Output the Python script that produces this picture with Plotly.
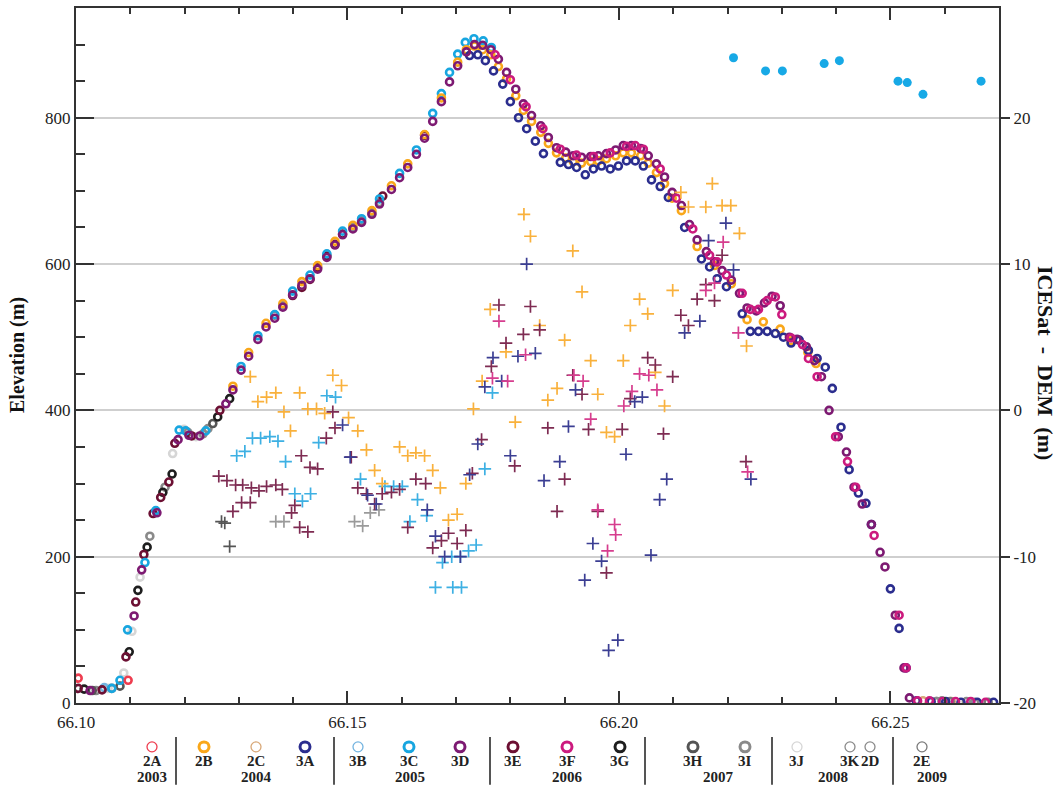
import plotly.graph_objects as go

# ---------------- elevation profiles (latitude, elevation in m) ----------------
LAT_2A = [66.1004, 66.1096]
ELEV_2A = [34, 31]

LAT_2B = [66.1289, 66.1318, 66.1350, 66.1381, 66.1416, 66.1445, 66.1477, 66.1510, 66.1545, 66.1581,
          66.1611, 66.1642, 66.1673, 66.1703, 66.1719, 66.1734, 66.1749, 66.1764, 66.1778, 66.1793,
          66.1810, 66.1824, 66.1839, 66.1856, 66.1870, 66.1885, 66.1902, 66.1916, 66.1931, 66.1948,
          66.1962, 66.1977, 66.1994, 66.2008, 66.2023, 66.2040, 66.2054, 66.2069, 66.2084, 66.2098,
          66.2115, 66.2144, 66.2176, 66.2207, 66.2236, 66.2266, 66.2297, 66.2317, 66.2348, 66.2363]
ELEV_2B = [433, 479, 519, 546, 576, 598, 631, 653, 673, 707,
           737, 777, 827, 876, 893, 898, 893, 886, 870, 853,
           830, 810, 795, 780, 765, 752, 745, 740, 738, 740,
           741, 744, 748, 752, 752, 748, 738, 725, 710, 690,
           673, 624, 598, 573, 524, 521, 511, 495, 479, 464]

LAT_2C = [66.2560, 66.2612]
ELEV_2C = [3, 2]

LAT_3A = [66.1725, 66.1740, 66.1754, 66.1769, 66.1786, 66.1800, 66.1815, 66.1830, 66.1846, 66.1861,
          66.1892, 66.1907, 66.1922, 66.1938, 66.1953, 66.1968, 66.1984, 66.1999, 66.2014, 66.2030,
          66.2045, 66.2060, 66.2076, 66.2091, 66.2121, 66.2152, 66.2167, 66.2181, 66.2198, 66.2227,
          66.2242, 66.2257, 66.2273, 66.2288, 66.2303, 66.2317, 66.2332, 66.2349, 66.2365, 66.2380,
          66.2393, 66.2409, 66.2424, 66.2441, 66.2455, 66.2465, 66.2500, 66.2516, 66.2529, 66.2548,
          66.2575, 66.2602, 66.2630, 66.2660, 66.2690]
ELEV_3A = [885, 886, 878, 864, 846, 822, 800, 785, 768, 751,
           739, 736, 732, 722, 730, 734, 730, 734, 741, 741,
           734, 715, 706, 691, 650, 607, 596, 580, 569, 532,
           508, 508, 508, 505, 500, 492, 496, 482, 471, 459,
           430, 377, 319, 287, 273, 244, 156, 102, 48, 3,
           2, 2, 1, 1, 1]

LAT_3B = [66.1052]
ELEV_3B = [21]

LAT_3C = [66.1066, 66.1081, 66.1095, 66.1127, 66.1147, 66.1190, 66.1202, 66.1239, 66.1304, 66.1335,
          66.1366, 66.1399, 66.1431, 66.1462, 66.1491, 66.1526, 66.1559, 66.1596, 66.1627, 66.1657,
          66.1673, 66.1688, 66.1703, 66.1717, 66.1733, 66.1750, 66.1765]
ELEV_3C = [20, 31, 100, 192, 263, 373, 372, 372, 460, 502,
           531, 563, 585, 614, 645, 662, 689, 724, 756, 806,
           833, 862, 887, 903, 908, 905, 896]

LAT_3D = [66.1026, 66.1107, 66.1121, 66.1149, 66.1188, 66.1208, 66.1228, 66.1276,
          66.1289, 66.1304, 66.1318, 66.1335, 66.1350, 66.1366, 66.1381, 66.1399, 66.1416, 66.1431,
          66.1445, 66.1462, 66.1477, 66.1491, 66.1510, 66.1526, 66.1545, 66.1559, 66.1581, 66.1596,
          66.1611, 66.1627, 66.1642, 66.1657, 66.1673, 66.1688, 66.1703,
          66.1719, 66.1734, 66.1749, 66.1764, 66.1778, 66.1793, 66.1810, 66.1824, 66.1839, 66.1856,
          66.1870, 66.1885, 66.1902, 66.1916, 66.1931, 66.1948, 66.1962, 66.1977, 66.1994, 66.2008,
          66.2023, 66.2040, 66.2054, 66.2069, 66.2084, 66.2098, 66.2115, 66.2130, 66.2144, 66.2161,
          66.2176, 66.2190, 66.2207, 66.2222, 66.2236, 66.2253, 66.2268, 66.2282, 66.2297, 66.2314,
          66.2328, 66.2345, 66.2360, 66.2373, 66.2387, 66.2404, 66.2419, 66.2433, 66.2448, 66.2465,
          66.2481, 66.2490, 66.2509, 66.2525, 66.2535]
ELEV_3D = [17, 119, 182, 260, 360, 366, 365, 409,
           428, 455, 474, 497, 514, 526, 541, 558, 571, 580,
           593, 609, 626, 640, 648, 657, 668, 682, 702, 718,
           732, 750, 772, 795, 822, 849, 871,
           890, 900, 899, 893, 880, 862, 839, 819, 803, 789,
           773, 759, 753, 748, 746, 747, 748, 751, 756, 762,
           762, 758, 748, 737, 719, 698, 680, 654, 633, 617,
           603, 591, 578, 560, 540, 536, 547, 556, 543, 500,
           497, 487, 468, 446, 400, 364, 343, 295, 272, 244,
           206, 186, 120, 48, 7]

LAT_3E = [66.1004, 66.1048, 66.1092, 66.1110, 66.1125, 66.1142, 66.1156, 66.1171, 66.1182, 66.1213,
          66.1265, 66.1399, 66.1416, 66.1431, 66.1445, 66.1462, 66.1477, 66.1491, 66.1565, 66.1642]
ELEV_3E = [20, 18, 63, 138, 203, 259, 281, 302, 355, 365,
           400, 557, 568, 579, 595, 611, 627, 641, 693, 776]

LAT_3F = [66.1772, 66.1800, 66.1829, 66.1860, 66.1892, 66.1922, 66.1953, 66.1984, 66.2014, 66.2030,
          66.2045, 66.2076, 66.2106, 66.2136, 66.2167, 66.2181, 66.2198, 66.2227, 66.2242, 66.2257,
          66.2273, 66.2288, 66.2300, 66.2317, 66.2338, 66.2349, 66.2365, 66.2399, 66.2421, 66.2436,
          66.2470, 66.2516, 66.2529, 66.2550, 66.2572, 66.2596, 66.2620, 66.2648, 66.2675]
ELEV_3F = [886, 852, 815, 785, 757, 749, 747, 752, 761, 762,
           757, 730, 690, 648, 612, 603, 585, 560, 538, 538,
           550, 555, 531, 499, 490, 471, 446, 364, 330, 295,
           229, 120, 48, 3, 3, 2, 2, 2, 1]

LAT_3G = [66.1015, 66.1098, 66.1114, 66.1131, 66.1160, 66.1177, 66.1261, 66.1283]
ELEV_3G = [19, 70, 154, 213, 288, 313, 391, 416]

LAT_3H = [66.1030, 66.1081, 66.1252]
ELEV_3H = [17, 23, 382]

LAT_3I = [66.1037, 66.1066, 66.1136, 66.1164, 66.1206, 66.1234, 66.1243, 66.1366, 66.1381, 66.1510,
          66.1526, 66.1545, 66.1559, 66.2585]
ELEV_3I = [17, 20, 228, 295, 370, 368, 375, 530, 543, 650,
           659, 670, 684, 2]

LAT_3J = [66.1059, 66.1088, 66.1103, 66.1118, 66.1178, 66.1199, 66.1221]
ELEV_3J = [20, 41, 98, 172, 341, 374, 364]

LAT_3K = [66.2585, 66.2640]
ELEV_3K = [2, 2]
LAT_2D = [66.2595, 66.2655]
ELEV_2D = [3, 1]
LAT_2E = [66.2610, 66.2680]
ELEV_2E = [2, 1]

# ---------------- ICESat - DEM differences (latitude, m) ----------------
DLAT_2B = [66.1321, 66.1335, 66.1351, 66.1368, 66.1383, 66.1395, 66.1412, 66.1427, 66.1443, 66.1458,
           66.1473, 66.1489, 66.1502, 66.1519, 66.1535, 66.1550, 66.1564, 66.1596, 66.1611, 66.1626,
           66.1642, 66.1657, 66.1671, 66.1686, 66.1702, 66.1718, 66.1732, 66.1748, 66.1763, 66.1792,
           66.1809, 66.1825, 66.1837, 66.1854, 66.1869, 66.1886, 66.1900, 66.1915, 66.1932, 66.1948,
           66.1961, 66.1977, 66.1992, 66.2008, 66.2021, 66.2038, 66.2053, 66.2067, 66.2084, 66.2099,
           66.2114, 66.2128, 66.2160, 66.2172, 66.2190, 66.2206, 66.2222, 66.2235]
DIFF_2B = [2.3, 0.6, 0.9, 1.2, -0.1, -1.4, 1.2, 0.1, 0.1, -0.2,
           2.4, 1.7, -0.5, -1.4, -2.7, -4.1, -5.0, -2.5, -3.1, -2.9,
           -3.1, -4.1, -5.3, -7.5, -7.1, -5.0, 0.1, 2.0, 6.9, 4.0,
           -0.8, 13.4, 11.9, 5.8, 0.7, 1.5, 4.8, 10.9, 8.1, 3.4,
           1.1, -1.5, -1.8, 3.4, 5.8, 7.6, 6.6, 2.6, 0.3, 8.2,
           14.9, 13.9, 13.9, 15.5, 14.0, 14.0, 12.1, 4.4]

DLAT_3C = [66.1296, 66.1311, 66.1325, 66.1340, 66.1357, 66.1372, 66.1386, 66.1403, 66.1417, 66.1432,
           66.1447, 66.1462, 66.1478, 66.1524, 66.1569, 66.1585, 66.1601, 66.1615, 66.1629, 66.1646,
           66.1662, 66.1675, 66.1692, 66.1694, 66.1708, 66.1710, 66.1723, 66.1737, 66.1753, 66.1767]
DIFF_3C = [-3.1, -2.8, -1.9, -1.9, -1.8, -2.1, -3.5, -5.7, -6.2, -5.7,
           -2.2, 1.0, 0.9, -4.7, -5.2, -5.2, -5.2, -7.6, -6.1, -7.2,
           -12.1, -10.4, -10.0, -12.1, -10.0, -12.1, -9.6, -9.2, -4.0, 1.2]

DLAT_3E = [66.1263, 66.1278, 66.1289, 66.1294, 66.1305, 66.1307, 66.1321, 66.1323, 66.1337, 66.1351,
           66.1368, 66.1380, 66.1397, 66.1403, 66.1412, 66.1415, 66.1427, 66.1431, 66.1445, 66.1461,
           66.1473, 66.1477, 66.1507, 66.1519, 66.1535, 66.1550, 66.1564, 66.1581, 66.1596, 66.1611,
           66.1626, 66.1644, 66.1657, 66.1673, 66.1686, 66.1702, 66.1718, 66.1730, 66.1747, 66.1765,
           66.1779, 66.1792, 66.1808, 66.1824, 66.1837, 66.1854, 66.1869, 66.1886, 66.1900, 66.1915,
           66.1932, 66.1944, 66.1961, 66.1977, 66.2006, 66.2021, 66.2053, 66.2067, 66.2082, 66.2099,
           66.2114, 66.2128, 66.2144, 66.2160, 66.2176, 66.2190, 66.2234]
DIFF_3E = [-4.5, -4.8, -6.9, -5.1, -6.3, -5.1, -6.3, -5.3, -5.5, -5.2,
           -5.1, -5.4, -7.0, -6.5, -8.0, -3.1, -8.3, -3.9, -4.0, -1.9,
           -0.1, -1.2, -3.2, -5.3, -5.7, -6.4, -5.7, -5.6, -5.4, -8.0,
           -4.7, -5.0, -9.4, -8.9, -8.4, -9.1, -8.2, -4.3, -2.0, 3.0,
           7.2, 4.6, -3.8, 5.2, 7.1, 5.5, -1.2, -6.9, -4.7, 2.4,
           1.1, -1.3, -6.9, -11.1, -1.3, 0.8, 3.6, 3.1, -1.6, 2.3,
           6.5, 5.8, 7.6, 8.6, 7.5, 10.6, -3.5]

DLAT_3A = [66.1491, 66.1537, 66.1553, 66.1647, 66.1662, 66.1679, 66.1708, 66.1725, 66.1740, 66.1753,
           66.1768, 66.1784, 66.1800, 66.1814, 66.1830, 66.1846, 66.1862, 66.1891, 66.1907, 66.1920,
           66.1937, 66.1952, 66.1968, 66.1981, 66.1998, 66.2013, 66.2029, 66.2043, 66.2059, 66.2075,
           66.2088, 66.2121, 66.2149, 66.2165, 66.2197, 66.2211, 66.2243, 66.1505]
DIFF_3A = [-1.0, -5.8, -6.4, -6.8, -8.6, -10.0, -10.0, -4.4, -2.3, 1.6,
           3.6, 2.0, -3.1, 3.7, 10.0, 3.9, -4.8, -3.5, -1.1, 1.4,
           -11.6, -9.1, -10.3, -16.4, -15.7, -3.0, 0.6, 0.9, -9.9, -6.1,
           -4.7, 5.3, 6.1, 11.6, 12.8, 9.6, -4.7, -3.2]

DLAT_3F = [66.1767, 66.1779, 66.1795, 66.1828, 66.1917, 66.1934, 66.1948, 66.1961, 66.1979, 66.1992,
           66.1994, 66.2009, 66.2024, 66.2038, 66.2055, 66.2070, 66.2160, 66.2176, 66.2192, 66.2220,
           66.2237]
DIFF_3F = [2.2, 6.1, 2.0, 3.8, 2.4, 2.0, -0.6, -6.8, -9.6, -7.8,
           -8.5, 0.3, 1.3, 2.5, 2.4, 1.4, 8.2, 8.7, 11.5, 5.3,
           -4.2]

DLAT_3I = [66.1368, 66.1383, 66.1513, 66.1528, 66.1542, 66.1558]
DIFF_3I = [-7.6, -7.6, -7.6, -7.9, -7.0, -6.8]

DLAT_3H = [66.1268, 66.1274, 66.1283]
DIFF_3H = [-7.6, -7.7, -9.3]

# filled cyan points (ICESat - DEM, far end of the track)
DLAT_OUT = [66.2211, 66.2270, 66.2301, 66.2378, 66.2406, 66.2514, 66.2531, 66.2560, 66.2667]
DIFF_OUT = [24.1, 23.2, 23.2, 23.7, 23.9, 22.5, 22.4, 21.6, 22.5]

# ---------------- legend table ----------------
LEG_CODES = ["2A", "2B", "2C", "3A", "3B", "3C", "3D", "3E", "3F", "3G", "3H", "3I", "3J", "3K", "2D", "2E"]
LEG_PX = [152, 204, 256, 305, 358, 409, 460, 513, 567, 620, 693, 745, 797, 850, 870, 922]
THIN_CODES = ["2A", "2C", "3B", "3J", "3K", "2D", "2E"]
YEARS = ["2003", "2004", "2005", "2006", "2007", "2008", "2009"]
YEAR_PX = [152, 256, 410, 567, 718, 833, 932]
SEP_PX = [176, 334, 490, 645, 772, 893]

COLORS = {
    "2A": "#ee3d4f", "2B": "#f9a71a", "2C": "#d8a878", "3A": "#2b2d8e", "3B": "#74b4e0",
    "3C": "#18a6e0", "3D": "#7d1a72", "3E": "#6c1033", "3F": "#cc1a7e", "3G": "#1e1e1e",
    "3H": "#555555", "3I": "#8a8a8a", "3J": "#d6d6d6", "3K": "#8a8a8a", "2D": "#8a8a8a",
    "2E": "#7a7a7a",
}
CROSS_COLORS = {"2B": "#f9b13c", "3C": "#3db0e3", "3E": "#7e2b52", "3A": "#3b3e93",
                "3F": "#d63d8e", "3I": "#9a9a9a", "3H": "#555555"}

SERIF = "Liberation Serif, Times New Roman, serif"

fig = go.Figure()

# difference crosses (right axis)
cross_sets = [("3H", DLAT_3H, DIFF_3H), ("3I", DLAT_3I, DIFF_3I), ("3C", DLAT_3C, DIFF_3C),
              ("2B", DLAT_2B, DIFF_2B), ("3E", DLAT_3E, DIFF_3E), ("3A", DLAT_3A, DIFF_3A),
              ("3F", DLAT_3F, DIFF_3F)]
for code, xs, ys in cross_sets:
    fig.add_trace(go.Scatter(
        x=xs, y=ys, yaxis="y2", mode="markers", showlegend=False, name=code + " diff",
        marker=dict(symbol="cross-thin", size=9, color=CROSS_COLORS[code],
                    line=dict(color=CROSS_COLORS[code], width=1.7))))

fig.add_trace(go.Scatter(
    x=DLAT_OUT, y=DIFF_OUT, yaxis="y2", mode="markers", showlegend=False,
    marker=dict(symbol="circle", size=9, color="#17a9e6")))

# elevation rings (left axis)
ring_sets = [("3J", LAT_3J, ELEV_3J), ("3B", LAT_3B, ELEV_3B), ("3I", LAT_3I, ELEV_3I),
             ("3H", LAT_3H, ELEV_3H), ("3G", LAT_3G, ELEV_3G), ("3E", LAT_3E, ELEV_3E),
             ("3C", LAT_3C, ELEV_3C), ("2A", LAT_2A, ELEV_2A), ("2C", LAT_2C, ELEV_2C),
             ("3K", LAT_3K, ELEV_3K), ("2D", LAT_2D, ELEV_2D), ("2E", LAT_2E, ELEV_2E),
             ("2B", LAT_2B, ELEV_2B), ("3A", LAT_3A, ELEV_3A), ("3D", LAT_3D, ELEV_3D),
             ("3F", LAT_3F, ELEV_3F)]
for code, xs, ys in ring_sets:
    fig.add_trace(go.Scatter(
        x=xs, y=ys, mode="markers", showlegend=False, name=code,
        marker=dict(symbol="circle-open", size=7, color=COLORS[code],
                    line=dict(color=COLORS[code], width=2.6))))

# ---------------- layout ----------------
L, R, T, B = 76, 59, 6, 84
W, H = 1058, 787
PW, PH = W - L - R, H - T - B


def px2x(px):
    return (px - L) / PW


def py2y(py):
    return (H - B - py) / PH


shapes = []
annotations = []
for code, px in zip(LEG_CODES, LEG_PX):
    r = 5
    thin = code in THIN_CODES
    shapes.append(dict(type="circle", xref="paper", yref="paper",
                       x0=px2x(px - r), x1=px2x(px + r), y0=py2y(747 + r), y1=py2y(747 - r),
                       line=dict(color=COLORS[code], width=1.3 if thin else 3)))
    annotations.append(dict(text="<b>" + code + "</b>", xref="paper", yref="paper",
                            x=px2x(px), y=py2y(761), showarrow=False,
                            xanchor="center", yanchor="middle",
                            font=dict(family=SERIF, size=15, color="#222")))
for yr, px in zip(YEARS, YEAR_PX):
    annotations.append(dict(text="<b>" + yr + "</b>", xref="paper", yref="paper",
                            x=px2x(px), y=py2y(777), showarrow=False,
                            xanchor="center", yanchor="middle",
                            font=dict(family=SERIF, size=15, color="#222")))
for px in SEP_PX:
    shapes.append(dict(type="line", xref="paper", yref="paper",
                       x0=px2x(px), x1=px2x(px), y0=py2y(737), y1=py2y(785),
                       line=dict(color="#555", width=2)))

annotations.append(dict(text="<b>Elevation (m)</b>", xref="paper", yref="paper",
                        x=px2x(17), y=py2y(354), showarrow=False, textangle=-90,
                        xanchor="center", yanchor="middle",
                        font=dict(family=SERIF, size=20, color="#111")))
annotations.append(dict(text="<b>ICESat&nbsp;&nbsp;-&nbsp;&nbsp;DEM&nbsp;&nbsp;(m)</b>", xref="paper", yref="paper",
                        x=px2x(1045), y=py2y(362), showarrow=False, textangle=90,
                        xanchor="center", yanchor="middle",
                        font=dict(family=SERIF, size=22, color="#111")))

fig.update_layout(
    width=W, height=H,
    margin=dict(l=L, r=R, t=T, b=B),
    paper_bgcolor="white", plot_bgcolor="white",
    showlegend=False,
    font=dict(family=SERIF, size=17, color="#222"),
    xaxis=dict(range=[66.10, 66.27], tickvals=[66.10, 66.15, 66.20, 66.25],
               ticktext=["66.10", "66.15", "66.20", "66.25"],
               ticks="inside", ticklen=12, tickwidth=2, tickcolor="#333",
               minor=dict(dtick=0.01, ticks="inside", ticklen=6, tickwidth=2, tickcolor="#333"),
               showline=True, linecolor="#333", linewidth=2, mirror="ticks",
               ticklabelstandoff=3,
               showgrid=False, zeroline=False, tickfont=dict(family=SERIF, size=17)),
    yaxis=dict(range=[0, 950], tickvals=[0, 200, 400, 600, 800],
               ticks="inside", ticklen=18, tickwidth=2, tickcolor="#333",
               minor=dict(dtick=50, ticks="inside", ticklen=9, tickwidth=2, tickcolor="#333",
                          showgrid=False),
               showline=True, linecolor="#333", linewidth=2,
               showgrid=True, gridcolor="#cfcfcf", gridwidth=2, zeroline=False,
               tickfont=dict(family=SERIF, size=17)),
    yaxis2=dict(range=[-20, 27.5], overlaying="y", side="right",
                tickvals=[-20, -10, 0, 10, 20], ticktext=["-20", "-10", "0", "10", "20"],
                ticks="outside", ticklen=9, tickwidth=2, tickcolor="#333",
                showline=True, linecolor="#333", linewidth=2,
                showgrid=False, zeroline=False, tickfont=dict(family=SERIF, size=17)),
    shapes=shapes, annotations=annotations,
)

fig.write_html("out.html")
